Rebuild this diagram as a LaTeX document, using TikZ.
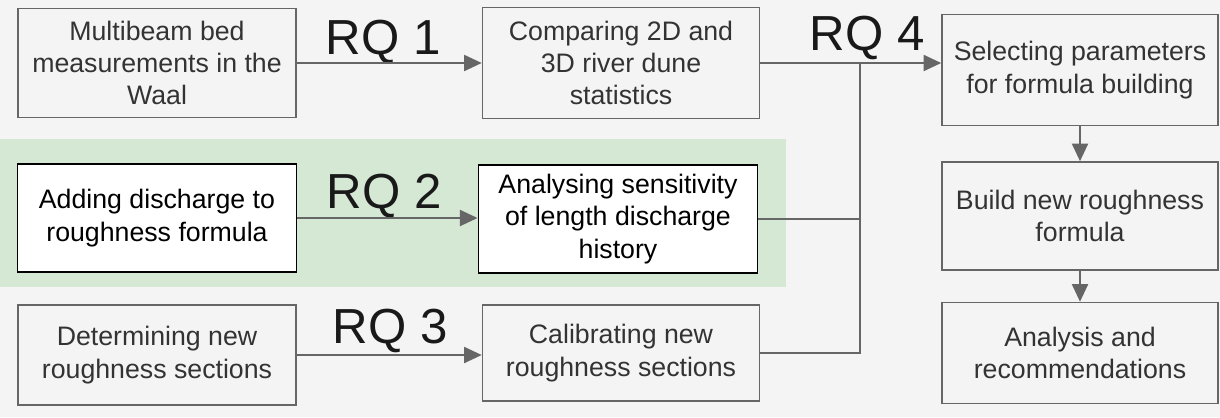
\documentclass[tikz,border=0pt]{standalone}
\usepackage{fontspec}
\setmainfont{Liberation Sans}
\usetikzlibrary{arrows.meta}
\definecolor{pagegray}{RGB}{244,244,244}
\definecolor{linegray}{RGB}{102,102,102}
\definecolor{bandgreen}{RGB}{213,232,212}
\definecolor{textgray}{RGB}{51,51,51}

\begin{document}
\begin{tikzpicture}[x=0.025cm,y=-0.025cm,>=Latex,
box/.style={draw=linegray,line width=1.1pt,fill=pagegray,text=textgray,align=center,
  inner sep=2pt,font=\fontsize{19}{23}\selectfont},
wbox/.style={box,draw=black,fill=white,text=black,line width=1.4pt},
conn/.style={linegray,line width=1.4pt},
arr/.style={conn,-{Triangle[length=4.4mm,width=4mm]}},
rq/.style={text=black!90,font=\fontsize{35}{40}\selectfont,inner sep=0pt}]
\fill[pagegray] (0,0) rectangle (1220,417);
\fill[bandgreen] (0,139) rectangle (786,287);
% left column
\node[box,minimum width=278*0.025cm,minimum height=109*0.025cm] (beds) at (157,63)
{Multibeam bed\\measurements in the\\Waal};
\node[wbox,minimum width=279*0.025cm,minimum height=108*0.025cm] (disch) at (157,218)
{Adding discharge to\\roughness formula};
\node[box,minimum width=278*0.025cm,minimum height=100*0.025cm] (sect) at (157,355)
{Determining new\\roughness sections};
% middle column
\node[box,minimum width=277*0.025cm,minimum height=111*0.025cm] (stats) at (621,63)
{Comparing 2D and\\3D river dune\\statistics};
\node[wbox,minimum width=279*0.025cm,minimum height=108*0.025cm] (sens) at (618,219)
{Analysing sensitivity\\of length discharge\\history};
\node[box,minimum width=277*0.025cm,minimum height=96*0.025cm] (calib) at (621,353)
{Calibrating new\\roughness sections};
% right column
\node[box,minimum width=276*0.025cm,minimum height=111*0.025cm] (params) at (1080,70)
{Selecting parameters\\for formula building};
\node[box,minimum width=276*0.025cm,minimum height=108*0.025cm] (build) at (1080,216)
{Build new roughness\\formula};
\node[box,minimum width=276*0.025cm,minimum height=101*0.025cm] (recom) at (1080,353)
{Analysis and\\recommendations};
% research questions
\node[rq] (rq1) at (383,42) {RQ 1};
\node[rq] (rq2) at (384,196) {RQ 2};
\node[rq] (rq3) at (390,331) {RQ 3};
\node[rq] (rq4) at (867,38) {RQ 4};
% connectors
\coordinate (join) at (860,62);
\draw[arr] (beds.east) -- (beds.east -| stats.west);
\draw[arr] (disch.east) -- (disch.east -| sens.west);
\draw[arr] (sect.east) -- (sect.east -| calib.west);
\draw[arr] (stats.east) -- (stats.east -| params.west);
\draw[conn] (sens.east) -| (join);
\draw[conn] (calib.east) -| (join);
\draw[arr] (params.south) -- (build.north);
\draw[arr] (build.south) -- (recom.north);
\end{tikzpicture}
\end{document}
